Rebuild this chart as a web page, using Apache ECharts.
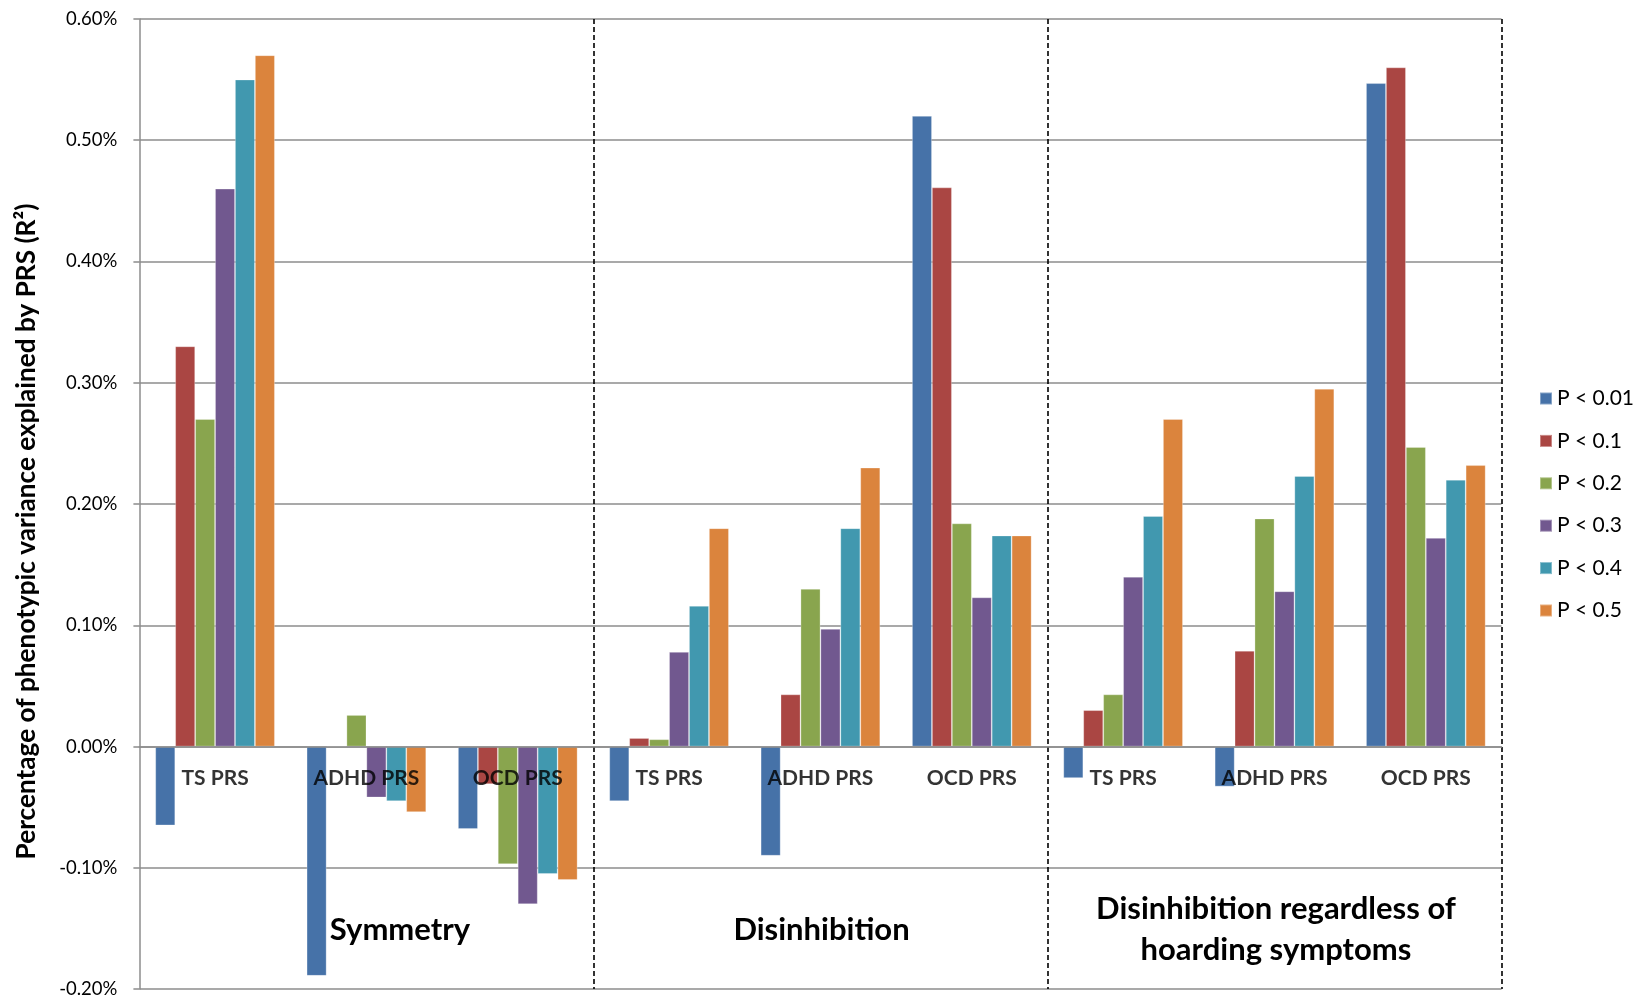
<!DOCTYPE html>
<html>
<head>
<meta charset="utf-8">
<script src="https://cdn.jsdelivr.net/npm/echarts@6/dist/echarts.min.js"></script>
<style>html,body{margin:0;padding:0;background:#fff}#c{width:1643px;height:1000px}</style>
</head>
<body>
<div id="c"></div>
<script>
// Categories (3 PRS x 3 phenotypes)
const categories = ['TS PRS','ADHD PRS','OCD PRS','TS PRS','ADHD PRS','OCD PRS','TS PRS','ADHD PRS','OCD PRS'];
const groupLabels = ['Symmetry','Disinhibition','Disinhibition regardless of\nhoarding symptoms'];
const seriesNames = ['P < 0.01','P < 0.1','P < 0.2','P < 0.3','P < 0.4','P < 0.5'];
const yTicks = [-0.2,-0.1,0,0.1,0.2,0.3,0.4,0.5,0.6];
// values in %
const p001 = [-0.065,-0.189,-0.068,-0.045,-0.090,0.520,-0.026,-0.033,0.547];
const p01  = [ 0.330, 0.000,-0.031, 0.007, 0.043,0.461, 0.030, 0.079,0.560];
const p02  = [ 0.270, 0.026,-0.097, 0.006, 0.130,0.184, 0.043, 0.188,0.247];
const p03  = [ 0.460,-0.042,-0.130, 0.078, 0.097,0.123, 0.140, 0.128,0.172];
const p04  = [ 0.550,-0.045,-0.105, 0.116, 0.180,0.174, 0.190, 0.223,0.220];
const p05  = [ 0.570,-0.054,-0.110, 0.180, 0.230,0.174, 0.270, 0.295,0.232];
const seriesData = [p001,p01,p02,p03,p04,p05];
const colors = ['#4672A8','#AA4643','#89A54E','#71588F','#4198AF','#DB843D'];

const FONT = 'Lato, "Open Sans", sans-serif';
const chart = echarts.init(document.getElementById('c'), null, {renderer:'canvas'});
const gridLeft = 139.4, gridRight = 141.5, gridTop = 18.9, gridBottom = 10.9;

const barSeries = seriesNames.map(function(n,i){
  return {name:n, type:'bar', data:seriesData[i], barGap:'0%', barCategoryGap:'21%',
    itemStyle:{borderColor:'rgba(255,255,255,0.35)', borderWidth:0.8}};
});
// category labels sitting just below the zero line
const labelSeries = {
  name:'catLabels', type:'scatter', data:categories.map(function(){return 0;}),
  symbolSize:0, silent:true, z:10,
  label:{show:true, position:'bottom', distance:21,
    formatter:function(p){return categories[p.dataIndex];},
    fontSize:21, fontWeight:'bold', color:'#000', fontFamily:FONT}
};

chart.setOption({
  animation:false,
  color: colors,
  textStyle:{fontFamily:FONT},
  grid:{left:gridLeft,right:gridRight,top:gridTop,bottom:gridBottom,containLabel:false, outerBoundsMode:'none'},
  legend:{
    orient:'vertical', left:1534, top:383,
    itemWidth:12, itemHeight:12, itemGap:21.4, icon:'rect',
    textStyle:{fontSize:21, color:'#000', fontFamily:FONT, lineHeight:19},
    data: seriesNames
  },
  xAxis:{
    type:'category', data:categories, z:10,
    axisLine:{onZero:true, lineStyle:{color:'#8c8c8c', width:1.5}},
    axisTick:{show:false},
    axisLabel:{show:false},
    splitLine:{show:true, interval:function(i){return i===3||i===6;}, lineStyle:{color:'#000', type:[5,3], width:1.6}}
  },
  yAxis:{
    type:'value', min:-0.2, max:0.6, interval:0.1,
    axisLine:{show:true, lineStyle:{color:'#8c8c8c', width:1.5}},
    axisTick:{show:true, length:6, lineStyle:{color:'#8c8c8c', width:1.5}},
    axisLabel:{fontSize:18.5, color:'#000', margin:22, fontFamily:FONT,
      formatter:function(v){return v.toFixed(2)+'%';}},
    splitLine:{lineStyle:{color:'#8c8c8c', width:1.5}}
  },
  series: barSeries.concat([labelSeries]),
  graphic:[
    {type:'text', x:27, y:531.5, rotation:Math.PI/2,
      style:{text:'Percentage of phenotypic variance explained by PRS (R²)', fontSize:26.2, fontWeight:'bold',
        fontFamily:FONT, fill:'#000', textAlign:'center', textVerticalAlign:'middle'}},
    {type:'text', x:400, y:929.5, style:{text:groupLabels[0], fontSize:31, fontWeight:'bold', fontFamily:FONT, fill:'#000', textAlign:'center', textVerticalAlign:'middle'}},
    {type:'text', x:821.5, y:929.5, style:{text:groupLabels[1], fontSize:31, fontWeight:'bold', fontFamily:FONT, fill:'#000', textAlign:'center', textVerticalAlign:'middle'}},
    {type:'text', x:1276, y:929.5, style:{text:groupLabels[2], fontSize:31, lineHeight:40.5, fontWeight:'bold', fontFamily:FONT, fill:'#000', textAlign:'center', textVerticalAlign:'middle'}}
  ]
});
</script>
</body>
</html>
